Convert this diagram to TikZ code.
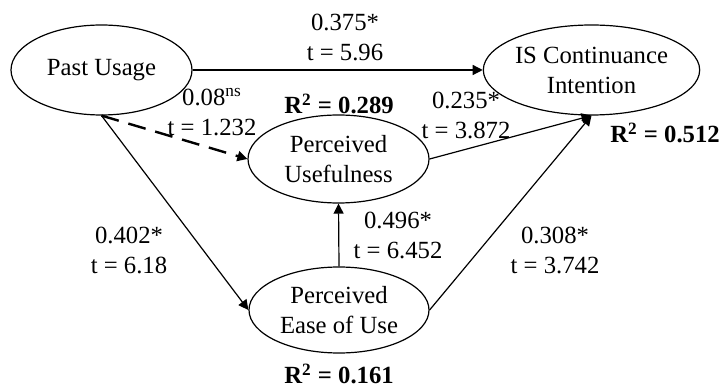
\documentclass[tikz,border=0pt]{standalone}
\usepackage{fontspec}
\setmainfont{Liberation Serif}
\usetikzlibrary{arrows.meta}
\usetikzlibrary{shapes.geometric}

\begin{document}
\begin{tikzpicture}[x=0.5pt,y=-0.5pt,
        font=\fontsize{12.35}{15}\selectfont,
        construct/.style={draw,ellipse,line width=0.6pt,align=center,inner sep=0pt},
        effect/.style={-{Triangle[length=5pt,width=5pt]},line width=0.6pt},
        coef/.style={align=center,inner sep=0pt}]
        \useasboundingbox (0,0) rectangle (721,389);
        \node[construct,minimum width=90.5pt,minimum height=45pt] (pu) at (101.5,70) {Past Usage};
        \node[construct,minimum width=91.5pt,minimum height=45pt] (ic) at (591.5,70) {IS Continuance\\Intention};
        \node[construct,minimum width=90.5pt,minimum height=44pt] (usef) at (338.5,159) {Perceived\\Usefulness};
        \node[construct,minimum width=90pt,minimum height=43pt] (eou) at (339,310) {Perceived\\Ease of Use};
        \draw[effect] (pu) -- (ic);
        \draw[effect,line width=1.2pt,dash pattern=on 9pt off 5pt] (pu.south) -- (usef.west);
        \draw[effect] (pu.south) -- (eou.west);
        \draw[effect] (usef.east) -- (ic.south);
        \draw[effect] (eou.east) -- (ic.south);
        \draw[effect] (eou.north) -- (usef.south);
        \node[coef] (c1) at (345,37) {0.375*\\t = 5.96};
        \node[coef] (c2) at (212,112) {0.08\textsuperscript{ns}\\t = 1.232};
        \node[coef] (r1) at (339,104) {\textbf{R\textsuperscript{2} = 0.289}};
        \node[coef] (c3) at (466,115) {0.235*\\t = 3.872};
        \node[coef] (r2) at (665,133) {\textbf{R\textsuperscript{2} = 0.512}};
        \node[coef] (c4) at (129,250) {0.402*\\t = 6.18};
        \node[coef] (c5) at (398,235) {0.496*\\t = 6.452};
        \node[coef] (c6) at (555,250) {0.308*\\t = 3.742};
        \node[coef] (r3) at (339,374) {\textbf{R\textsuperscript{2} = 0.161}};
    \end{tikzpicture}
\end{document}
